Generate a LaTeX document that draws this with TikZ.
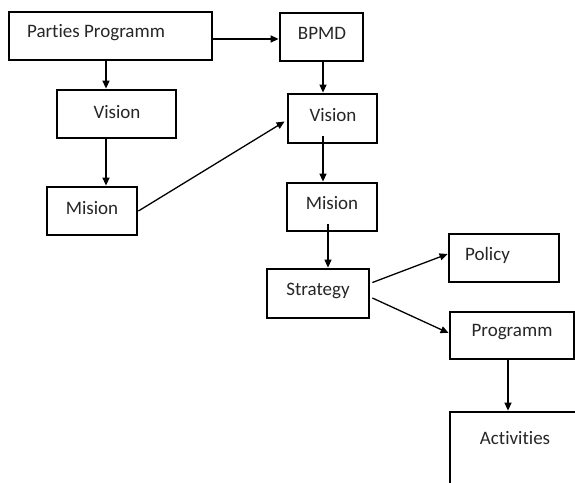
\documentclass[tikz,border=0pt]{standalone}
\usepackage{fontspec}
\setmainfont{Carlito}[Ligatures=NoCommon]
\usetikzlibrary{arrows.meta}
\tikzset{
  box/.style={draw=black, line width=2.8pt, rectangle, inner sep=0pt, fill=white},
  txt/.style={inner sep=0pt, font=\fontsize{19pt}{21pt}\selectfont, text=black!85},
  arr/.style={draw=black, line width=1.3pt, -{Triangle[length=8pt,width=7pt]}}
}
\begin{document}
\begin{tikzpicture}[x=1pt,y=-1pt]
\useasboundingbox (0,0) rectangle (575,482);
\clip (0,0) rectangle (575,482);
\fill[white] (0,0) rectangle (575,482);
% boxes
\node[box, minimum width=203pt, minimum height=48pt] (pp) at (110.5,36) {};
\node[box, minimum width=83pt, minimum height=48pt] (bpmd) at (321.5,37) {};
\node[box, minimum width=119pt, minimum height=48pt] (v1) at (116.5,114) {};
\node[box, minimum width=90pt, minimum height=48pt] (m1) at (92,211) {};
\node[box, minimum width=89pt, minimum height=49pt] (v2) at (332.5,118.5) {};
\node[box, minimum width=90pt, minimum height=48pt] (m2) at (332,207) {};
\node[box, minimum width=102pt, minimum height=49pt] (st) at (318,293.5) {};
\node[box, minimum width=110pt, minimum height=48pt] (pol) at (504,258) {};
\node[box, minimum width=124pt, minimum height=47pt] (prog) at (512,335.5) {};
\node[box, minimum width=150pt, minimum height=108pt] (act) at (525,466) {};
% texts
\node[txt] (tpp) at (96,33) {Parties Programm};
\node[txt] (tbpmd) at (322,33) {BPMD};
\node[txt] (tv1) at (117,112) {Vision};
\node[txt] (tm1) at (92,208) {Mision};
\node[txt] (tv2) at (333,115) {Vision};
\node[txt] (tm2) at (332,203) {Mision};
\node[txt] (tst) at (318,291) {Strategy};
\node[txt] (tpol) at (487.5,255) {Policy};
\node[txt] (tprog) at (512,332) {Programm};
\node[txt] (tact) at (515,438) {Activities};
% connectors
\draw[arr] ([yshift=-3pt]pp.east) -- ([yshift=-2pt]bpmd.west);
\draw[arr] ([xshift=-4.5pt]pp.south) -- ([xshift=-4.5pt]pp.south |- v1.north);
\draw[arr] ([xshift=-10.5pt]v1.south) -- ([xshift=-10.5pt]v1.south |- m1.north);
\draw[arr] (m1.east) -- ([xshift=-2pt,yshift=-3pt]v2.west);
\draw[arr] ([xshift=1.5pt]bpmd.south) -- ([xshift=1.5pt]bpmd.south |- v2.north);
\draw[arr] ([xshift=-9.5pt,yshift=8pt]v2.south) -- ([xshift=-9.5pt]v2.south |- m2.north);
\draw[arr] ([xshift=-4pt,yshift=8pt]m2.south) -- ([xshift=-4pt]m2.south |- st.north);
\draw[arr] ([xshift=2pt,yshift=11pt]st.east) -- ([yshift=4pt]pol.west);
\draw[arr] ([xshift=2pt,yshift=-4.5pt]st.east) -- ([yshift=2.5pt]prog.west);
\draw[arr] ([xshift=-4pt]prog.south) -- ([xshift=-4pt]prog.south |- act.north);
\end{tikzpicture}
\end{document}
